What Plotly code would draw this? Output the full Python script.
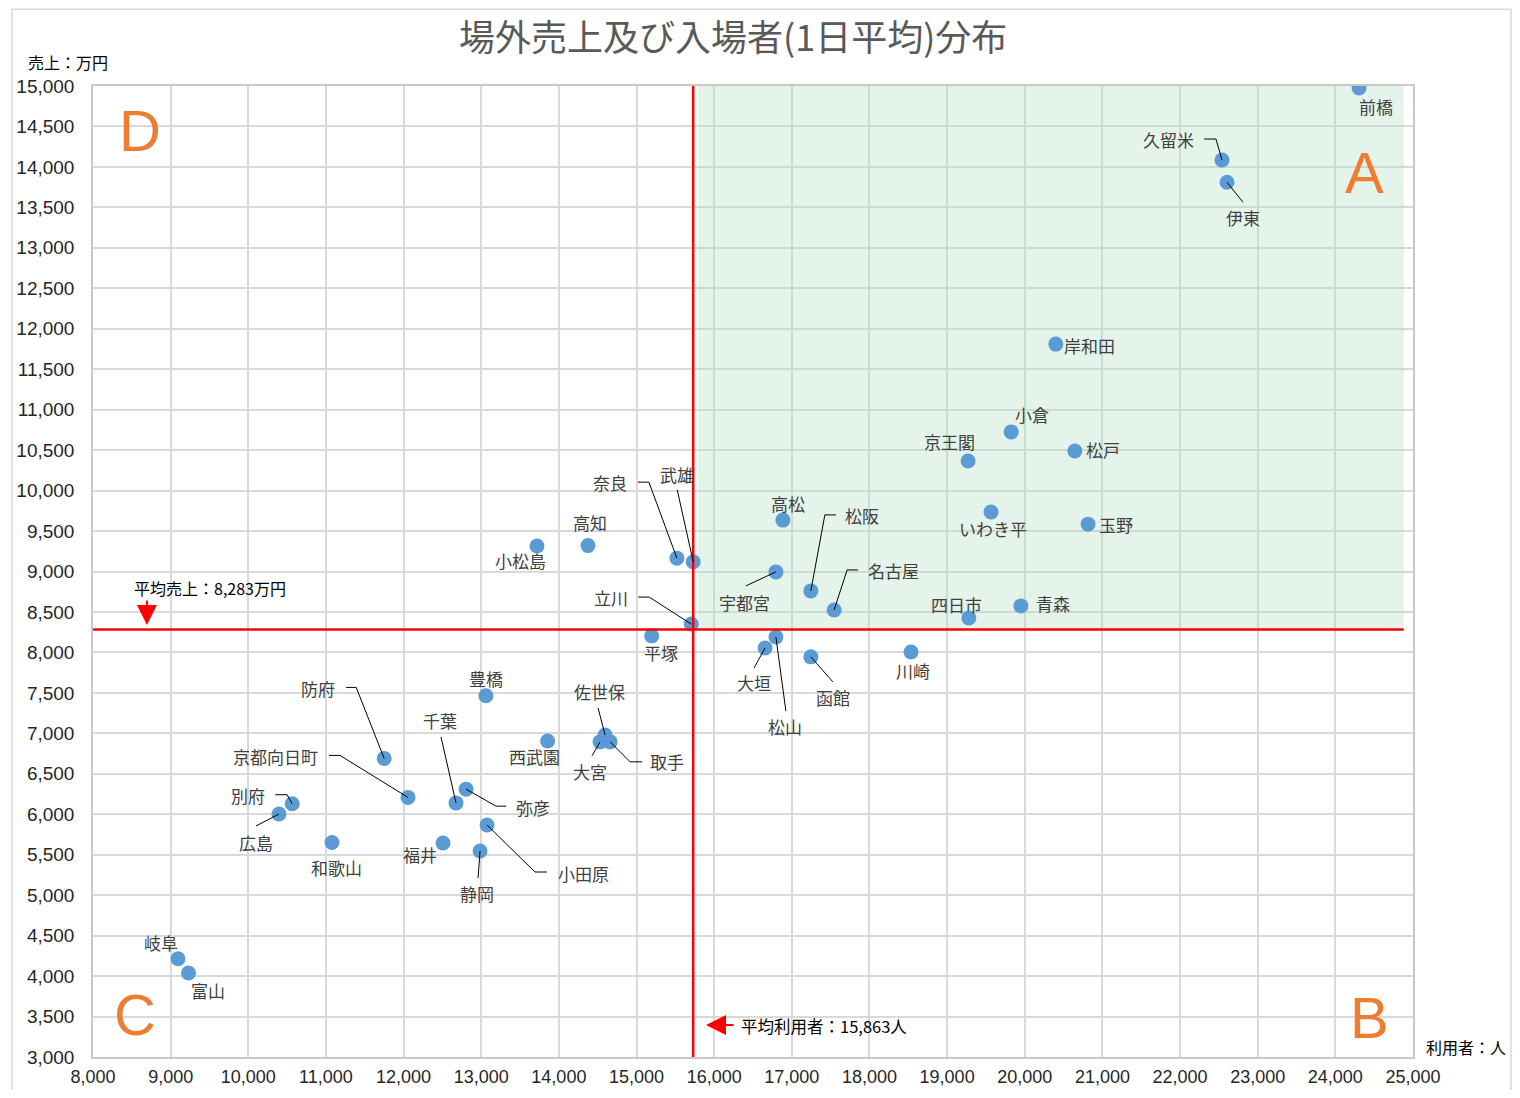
import plotly.graph_objects as go

# data
names = ['前橋', '久留米', '伊東', '岸和田', '小倉', '京王閣', '松戸', 'いわき平', '玉野', '四日市',
         '青森', '川崎', '高松', '宇都宮', '松阪', '名古屋', '大垣', '松山', '函館', '奈良',
         '武雄', '立川', '平塚', '高知', '小松島', '豊橋', '西武園', '佐世保', '大宮', '取手',
         '防府', '京都向日町', '千葉', '弥彦', '別府', '広島', '和歌山', '福井', '小田原', '静岡',
         '岐阜', '富山']
users = [24305, 22540, 22605, 20400, 19825, 19270, 20645, 19565, 20815, 19280,
         19950, 18535, 16885, 16795, 17245, 17545, 16655, 16795, 17245, 15520,
         15730, 15705, 15195, 14375, 13718, 13060, 13855, 14595, 14530, 14660,
         11750, 12057, 12675, 12805, 10565, 10395, 11078, 12508, 13075, 12985,
         9095, 9230]
sales = [14975, 14085, 13810, 11810, 10725, 10365, 10490, 9735, 9585, 8425,
         8575, 8005, 9635, 8995, 8760, 8525, 8055, 8190, 7945, 9165,
         9120, 8350, 8205, 9320, 9315, 7465, 6905, 6980, 6895, 6895,
         6690, 6208, 6140, 6310, 6130, 6003, 5650, 5645, 5867, 5546,
         4215, 4038]

avg_sales = 8283
avg_users = 15863
avg_users_line = 15730   # where the red line sits in the picture

x_ticks = list(range(8000, 25001, 1000))
y_ticks = list(range(3000, 15001, 500))

# label offsets in screen pixels (dx right, dy down) and leader line bends
label_pos = {
    '前橋': (17, 18), '久留米': (-53, -21), '伊東': (16, 35), '岸和田': (34, 1),
    '小倉': (21, -17), '京王閣': (-19, -20), '松戸': (28, -1), 'いわき平': (2, 16),
    '玉野': (28, 0), '四日市': (-12, -14), '青森': (32, -2), '川崎': (2, 18),
    '高松': (5, -17), '宇都宮': (-31, 31), '松阪': (51, -75), '名古屋': (59, -39),
    '大垣': (-11, 35), '松山': (9, 89), '函館': (22, 41), '奈良': (-67, -76),
    '武雄': (-16, -87), '立川': (-80, -27), '平塚': (9, 17), '高知': (2, -23),
    '小松島': (-16, 14), '豊橋': (0, -17), '西武園': (-13, 15), '佐世保': (-6, -43),
    '大宮': (-10, 30), '取手': (57, 20), '防府': (-66, -70), '京都向日町': (-133, -41),
    '千葉': (-16, -82), '弥彦': (67, 18), '別府': (-44, -8), '広島': (-23, 28),
    '和歌山': (4, 25), '福井': (-23, 12), '小田原': (96, 48), '静岡': (-3, 43),
    '岐阜': (-17, -16), '富山': (19, 17),
}
leaders = {
    '久留米': [(-6, -21), (-18, -21)],
    '伊東': [(16, 20)],
    '宇都宮': [(-30, 14)],
    '松阪': [(14, -76), (25, -76)],
    '名古屋': [(13, -40), (24, -40)],
    '大垣': [(-11, 20)],
    '松山': [(10, 74)],
    '函館': [(22, 25)],
    '奈良': [(-28, -76), (-39, -76)],
    '武雄': [(-16, -72)],
    '立川': [(-42, -27), (-53, -27)],
    '佐世保': [(-7, -27)],
    '大宮': [(-8, 14)],
    '取手': [(20, 20), (32, 20)],
    '防府': [(-28, -71), (-38, -71)],
    '京都向日町': [(-68, -42), (-79, -42)],
    '千葉': [(-15, -66)],
    '弥彦': [(30, 17), (40, 17)],
    '別府': [(-5, -9), (-17, -9)],
    '広島': [(-23, 12)],
    '小田原': [(48, 47), (60, 47)],
    '静岡': [(-2, 27)],
}

JP = 'Noto Sans CJK JP'
NUM = 'Liberation Sans Narrow, Liberation Sans, sans-serif'

fig = go.Figure()

fig.add_trace(go.Scatter(
    x=users, y=sales, mode='markers',
    marker=dict(size=15, color='#5b9bd5'),
    text=names, hoverinfo='text', showlegend=False,
))

shapes = []
annotations = []

# A quadrant shading
shapes.append(dict(type='rect', xref='x', yref='y', x0=15790, x1=24880, y0=avg_sales, y1=15000,
                   fillcolor='rgba(178,224,195,0.35)', line=dict(width=0), layer='between'))

# average lines
shapes.append(dict(type='line', xref='x', yref='y', x0=8000, x1=24880, y0=avg_sales, y1=avg_sales,
                   line=dict(color='#ff0000', width=2.5)))
shapes.append(dict(type='line', xref='x', yref='y', x0=avg_users_line, x1=avg_users_line, y0=3000, y1=15000,
                   line=dict(color='#ff0000', width=2.5)))

# outer chart border
shapes.append(dict(type='rect', xref='paper', yref='paper', x0=-0.0614, x1=1.0742, y0=-0.06, y1=1.079,
                   line=dict(color='#d9d9d9', width=1.5), fillcolor='rgba(0,0,0,0)'))


def txt(x, y, text, size, color, xref='paper', yref='paper', family=JP, **kw):
    return dict(x=x, y=y, xref=xref, yref=yref, text=text, showarrow=False,
                xanchor='center', yanchor='middle',
                font=dict(family=family, size=size, color=color), **kw)


for n, xv, yv in zip(names, users, sales):
    dx, dy = label_pos[n]
    annotations.append(txt(xv, yv, n, 17, '#404040', xref='x', yref='y', xshift=dx, yshift=-dy))
    if n in leaders:
        path = 'M0,0 ' + ' '.join('L%d,%d' % (px, -py) for px, py in leaders[n])
        shapes.append(dict(type='path', xref='x', yref='y', xsizemode='pixel', ysizemode='pixel',
                           xanchor=xv, yanchor=yv, path=path,
                           line=dict(color='#000000', width=1)))

# quadrant letters
for letter, px, py in [('D', 0.0356, 0.954), ('A', 0.9636, 0.9114), ('C', 0.0318, 0.0433), ('B', 0.9667, 0.0402)]:
    annotations.append(txt(px, py, letter, 58, '#ed7d31', family='Liberation Sans, sans-serif'))

# titles and axis captions
annotations.append(txt(0.4848, 1.0525, '場外売上及び入場者(1日平均)分布', 36, '#595959'))
annotations.append(txt(-0.0189, 1.0247, '売上：万円', 16, '#000000'))
annotations.append(txt(1.040, 0.0103, '利用者：人', 16, '#000000'))

# average labels + arrows
annotations.append(txt(0.0886, 0.483, '平均売上：{:,}万円'.format(avg_sales), 16, '#000000'))
annotations.append(dict(x=8695, y=8339, xref='x', yref='y', text='', showarrow=True,
                        ax=0, ay=-26, arrowhead=2, arrowsize=2, arrowwidth=2, arrowcolor='#ff0000'))
annotations.append(txt(0.5538, 0.0319, '平均利用者：{:,}人'.format(avg_users), 16.5, '#000000'))
annotations.append(dict(x=15895, y=3395, xref='x', yref='y', text='', showarrow=True,
                        ax=29, ay=0, arrowhead=2, arrowsize=2, arrowwidth=2, arrowcolor='#ff0000'))

# page body has an 8px margin, so the figure is a bit smaller than the window
fig.update_layout(
    width=1504, height=1082,
    margin=dict(l=85, r=99, t=78, b=33),
    paper_bgcolor='white', plot_bgcolor='white',
    shapes=shapes, annotations=annotations,
    xaxis=dict(range=[8000, 25000], tickvals=x_ticks, tickformat=',d', automargin=False,
               showgrid=True, gridcolor='#d9d9d9', gridwidth=1.5,
               showline=True, linecolor='#c8c8c8', linewidth=1.5, mirror=True,
               zeroline=False, ticks='', ticklabelstandoff=3,
               tickfont=dict(family=NUM, size=18, color='#262626')),
    yaxis=dict(range=[3000, 15000], tickvals=y_ticks, tickformat=',d', automargin=False,
               showgrid=True, gridcolor='#d9d9d9', gridwidth=1.5,
               showline=True, linecolor='#c8c8c8', linewidth=1.5, mirror=True,
               zeroline=False, ticks='', ticklabelstandoff=13,
               tickfont=dict(family=NUM, size=19, color='#262626')),
)

fig.write_html('out.html')
